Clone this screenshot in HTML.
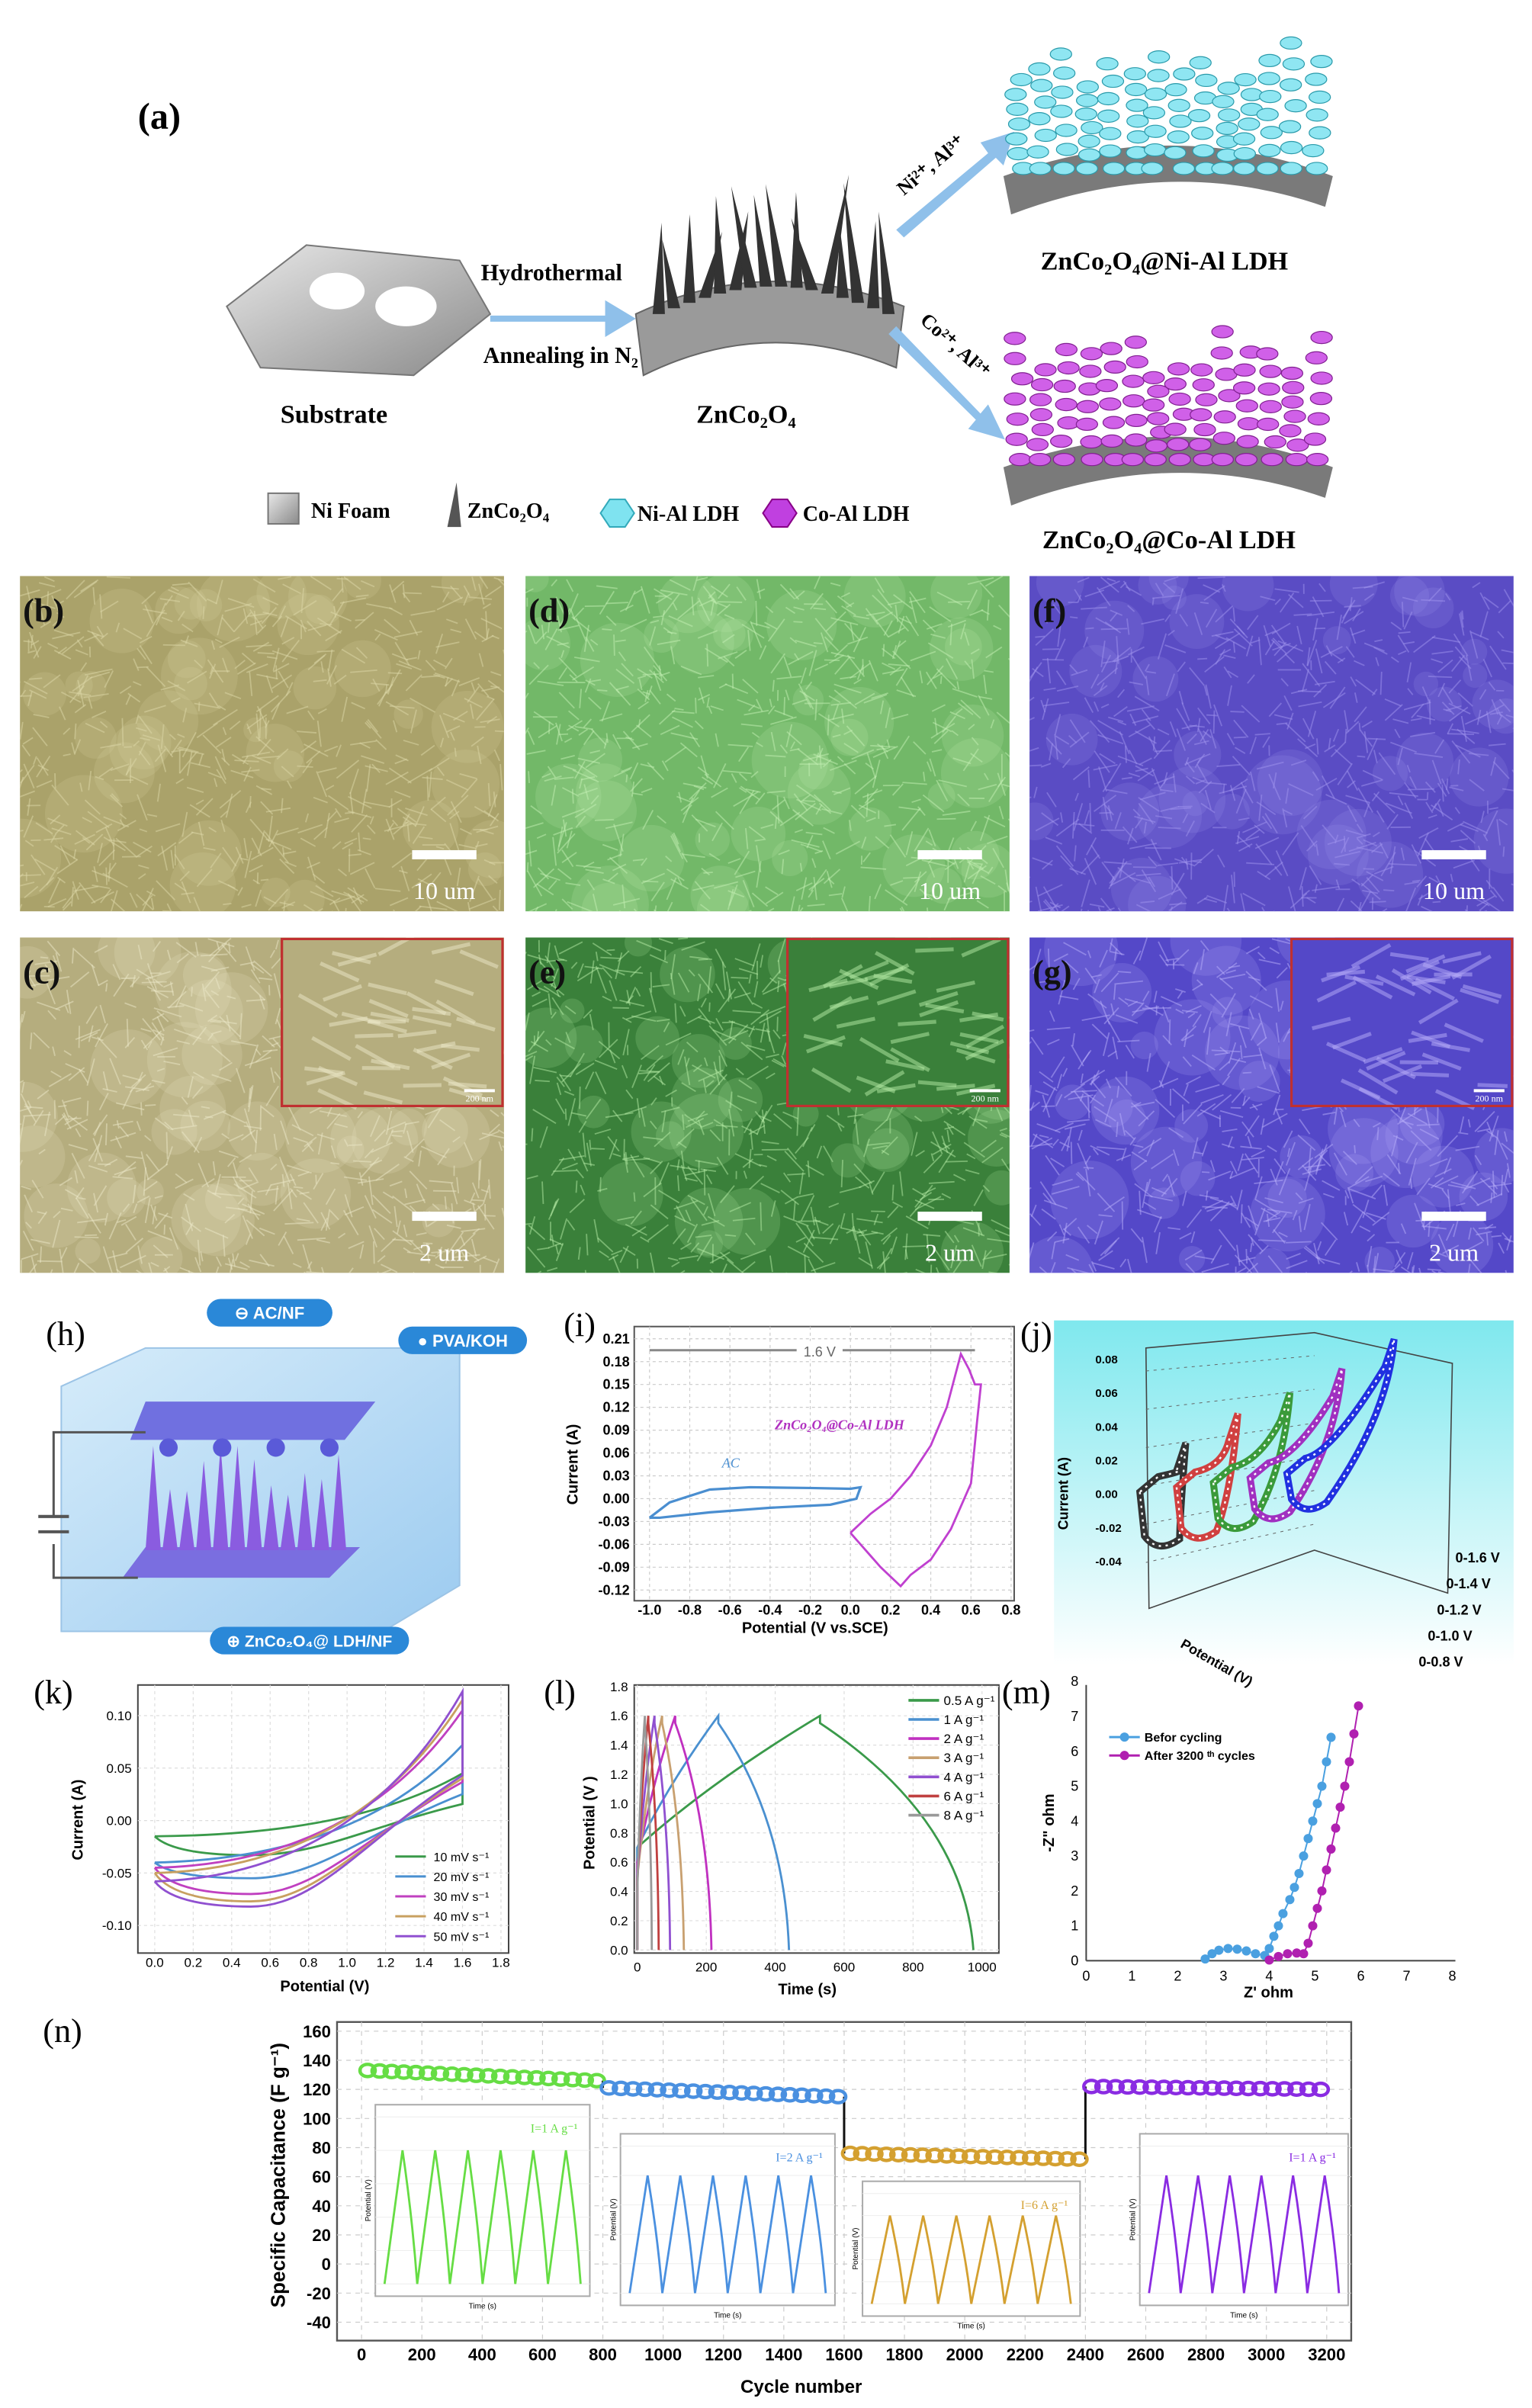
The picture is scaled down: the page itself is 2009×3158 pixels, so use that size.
<!DOCTYPE html>
<html><head><meta charset="utf-8">
<style>
html,body{margin:0;padding:0;background:#fff;}
svg{display:block;}
text{font-family:"Liberation Sans",sans-serif;}
.serif{font-family:"Liberation Serif",serif;}
</style></head>
<body>
<svg id="fig" width="2009" height="3158" viewBox="0 0 1000 1572" preserveAspectRatio="none" xmlns="http://www.w3.org/2000/svg">
<defs id="defs">
<linearGradient id="gNF" x1="0" y1="0" x2="1" y2="1"><stop offset="0" stop-color="#e8e8e8"/><stop offset="1" stop-color="#8a8a8a"/></linearGradient>
<linearGradient id="gJ" x1="0" y1="0" x2="0" y2="1"><stop offset="0" stop-color="#7fe8ee"/><stop offset="1" stop-color="#ffffff"/></linearGradient>
<linearGradient id="gH" x1="0" y1="0" x2="1" y2="1"><stop offset="0" stop-color="#d6ecfa"/><stop offset="1" stop-color="#9ccbf0"/></linearGradient>
</defs>

<g>
<text class="serif" x="90" y="84" font-size="24" font-weight="bold">(a)</text>
<path d="M148,200 L200,160 L300,170 L320,205 L270,245 L170,240 Z" fill="url(#gNF)" stroke="#777" stroke-width="1"/>
<ellipse cx="220" cy="190" rx="18" ry="12" fill="#fff"/>
<ellipse cx="265" cy="200" rx="20" ry="13" fill="#fff"/>
<text class="serif" x="218" y="276" font-size="17" font-weight="bold" text-anchor="middle">Substrate</text>
<path d="M320,206 L395,206 L395,196 L415,208 L395,220 L395,210 L320,210 Z" fill="#8fc0ea"/>
<text class="serif" x="360" y="183" font-size="15" font-weight="bold" text-anchor="middle">Hydrothermal</text>
<text class="serif" x="366" y="237" font-size="15" font-weight="bold" text-anchor="middle">Annealing in N₂</text>
<path d="M415,205 Q500,165 590,200 L585,240 Q500,205 420,245 Z" fill="#9a9a9a" stroke="#666"/>
<g id="spikes"></g>
<text class="serif" x="487" y="276" font-size="17" font-weight="bold" text-anchor="middle">ZnCo₂O₄</text>
<path d="M585,150 L645,100 L640,93 L662,86 L655,108 L650,103 L590,155 Z" fill="#8fc0ea"/>
<path d="M585,213 L640,270 L645,264 L656,287 L632,280 L637,274 L580,218 Z" fill="#8fc0ea"/>
<text class="serif" x="590" y="128" font-size="13" font-weight="bold" transform="rotate(-40 590 128)">Ni²⁺, Al³⁺</text>
<text class="serif" x="600" y="210" font-size="13" font-weight="bold" transform="rotate(42 600 210)">Co²⁺, Al³⁺</text>
<g id="niald"></g>
<g id="coald"></g>
<text class="serif" x="760" y="176" font-size="17" font-weight="bold" text-anchor="middle">ZnCo₂O₄@Ni-Al LDH</text>
<text class="serif" x="763" y="358" font-size="17" font-weight="bold" text-anchor="middle">ZnCo₂O₄@Co-Al LDH</text>
<rect x="175" y="322" width="20" height="20" fill="url(#gNF)" stroke="#777"/>
<text class="serif" x="203" y="338" font-size="14" font-weight="bold">Ni Foam</text>
<path d="M292,344 L298,315 L301,344 Z" fill="#555"/>
<text class="serif" x="305" y="338" font-size="14" font-weight="bold">ZnCo₂O₄</text>
<polygon points="392,335 398,326 408,326 414,335 408,344 398,344" fill="#7fe3f0" stroke="#3ab"/>
<text class="serif" x="416" y="340" font-size="14" font-weight="bold">Ni-Al LDH</text>
<polygon points="498,335 504,326 514,326 520,335 514,344 504,344" fill="#c040e0" stroke="#808"/>
<text class="serif" x="524" y="340" font-size="14" font-weight="bold">Co-Al LDH</text>
</g>

<g id="sem"></g>

<g>
<text class="serif" x="30" y="878" font-size="22">(h)</text>
<path d="M40,905 L95,880 L300,880 L300,1035 L250,1065 L40,1065 Z" fill="url(#gH)" stroke="#9cc4e6"/>
<path d="M95,915 L245,915 L225,940 L85,940 Z" fill="#7070e0"/>
<path d="M95,1010 L235,1010 L215,1030 L80,1030 Z" fill="#7a6ee0"/>
<g id="hspikes"></g>
<path d="M95,935 L35,935 L35,990 M35,1008 L35,1030 L90,1030" stroke="#555" stroke-width="1.5" fill="none"/>
<path d="M25,990 L45,990 M25,1000 L45,1000" stroke="#555" stroke-width="2"/>
<rect x="135" y="848" width="82" height="18" rx="9" fill="#2a88d8"/>
<text x="176" y="861" font-size="11" fill="#fff" text-anchor="middle" font-weight="bold">⊖  AC/NF</text>
<rect x="260" y="866" width="84" height="18" rx="9" fill="#2a88d8"/>
<text x="302" y="879" font-size="11" fill="#fff" text-anchor="middle" font-weight="bold">●  PVA/KOH</text>
<rect x="137" y="1062" width="130" height="18" rx="9" fill="#2a88d8"/>
<text x="202" y="1075" font-size="10.5" fill="#fff" text-anchor="middle" font-weight="bold">⊕ ZnCo₂O₄@ LDH/NF</text>
</g>

<g id="chartI"></g>
<g id="chartJ"></g>
<g id="chartK"></g>
<g id="chartL"></g>
<g id="chartM"></g>
<g id="chartN"></g>
</svg>

<script>
const iAcPot = [-1.0,-0.9,-0.7,-0.5,-0.2,0.0,0.05,0.03,-0.1,-0.4,-0.7,-0.95,-1.0];
const iAcCur = [-0.025,-0.005,0.012,0.015,0.014,0.013,0.015,0.0,-0.008,-0.012,-0.018,-0.025,-0.025];
const iZcoPot = [0.0,0.1,0.2,0.3,0.4,0.48,0.55,0.59,0.62,0.65,0.63,0.6,0.5,0.4,0.3,0.25,0.15,0.05,0.0];
const iZcoCur = [-0.045,-0.02,0.0,0.03,0.07,0.12,0.19,0.17,0.15,0.15,0.1,0.02,-0.04,-0.08,-0.1,-0.115,-0.09,-0.06,-0.045];
const iXTicks = [-1.0,-0.8,-0.6,-0.4,-0.2,0.0,0.2,0.4,0.6,0.8];
const iYTicks = [-0.12,-0.09,-0.06,-0.03,0.00,0.03,0.06,0.09,0.12,0.15,0.18,0.21];

const jPeak = [0.033,0.048,0.058,0.070,0.085];
const jMin = [-0.025,-0.024,-0.022,-0.02,-0.018];

const kRates = ["10 mV s⁻¹","20 mV s⁻¹","30 mV s⁻¹","40 mV s⁻¹","50 mV s⁻¹"];
const kTop = [0.045,0.072,0.105,0.115,0.123];
const kMin = [-0.033,-0.055,-0.07,-0.077,-0.082];
const kStart = [-0.015,-0.04,-0.045,-0.05,-0.058];
const kXTicks = [0.0,0.2,0.4,0.6,0.8,1.0,1.2,1.4,1.6,1.8];
const kYTicks = [-0.10,-0.05,0.00,0.05,0.10];

const lCurrents = ["0.5 A g⁻¹","1  A g⁻¹","2  A g⁻¹","3  A g⁻¹","4  A g⁻¹","6  A g⁻¹","8  A g⁻¹"];
const lPeakT = [530,235,110,72,50,32,22];
const lEndT = [975,440,215,135,95,62,42];
const lStartV = [0.7,0.7,0.6,0.5,0.5,0.45,0.4];
const lXTicks = [0,200,400,600,800,1000];
const lYTicks = [0.0,0.2,0.4,0.6,0.8,1.0,1.2,1.4,1.6,1.8];

const mBeforeX = [2.6,2.75,2.9,3.1,3.3,3.5,3.7,3.9,4.0,4.1,4.2,4.3,4.45,4.55,4.65,4.75,4.85,4.95,5.05,5.15,5.25,5.35];
const mBeforeY = [0.05,0.2,0.3,0.35,0.33,0.28,0.2,0.15,0.35,0.7,1.0,1.35,1.75,2.1,2.5,3.0,3.5,4.0,4.5,5.0,5.7,6.4];
const mAfterX = [4.0,4.2,4.4,4.6,4.75,4.85,4.95,5.05,5.15,5.25,5.35,5.45,5.55,5.65,5.75,5.85,5.95];
const mAfterY = [0.02,0.12,0.2,0.22,0.2,0.5,1.0,1.5,2.0,2.6,3.2,3.8,4.4,5.0,5.7,6.5,7.3];
const mTicks = [0,1,2,3,4,5,6,7,8];

const nSegStart = [0,800,1600,2400];
const nSegEnd = [800,1600,2400,3200];
const nSegFirst = [133,121,76,122];
const nSegLast = [126,115,72,120];
const nColors = ["#66dd44","#4a90e0","#d4a030","#8a2be2"];
const nXTicks = [0,200,400,600,800,1000,1200,1400,1600,1800,2000,2200,2400,2600,2800,3000,3200];
const nYTicks = [-40,-20,0,20,40,60,80,100,120,140,160];
const nInsetLabels = ["I=1 A g⁻¹","I=2 A g⁻¹","I=6 A g⁻¹","I=1 A g⁻¹"];
const nInsetPeakV = [1.6,1.6,1.6,1.6];
const nInsetMinV = [0.0,0.0,0.0,0.0];

const NS = "http://www.w3.org/2000/svg";
function mk(tag, attrs, parent, name) {
  const el = document.createElementNS(NS, tag);
  for (const k in attrs) el.setAttribute(k, attrs[k]);
  
  
  if (parent) parent.appendChild(el);
  return el;
}
function txt(parent, x, y, s, size, name, extra) {
  const t = mk('text', Object.assign({x:x, y:y, 'font-size':size}, extra||{}), parent, name);
  t.textContent = s;
  return t;
}
let seed = 7;
function rnd(){ seed = (seed*9301+49297)%233280; return seed/233280; }

const sp = document.getElementById('spikes');
for (let i=0;i<16;i++){
  const bx = 430 + i*10, by = 205 - Math.sin((i/15)*Math.PI)*18;
  const h = 40 + rnd()*40, lean = (rnd()-0.5)*30;
  mk('path',{d:`M${bx-4},${by} L${bx+lean},${by-h} L${bx+4},${by} Z`, fill:'#333'}, sp, 'zco-spike');
}
function ldh(g, x0, y0, col, stroke){
  mk('path',{d:`M${x0},${y0+110} Q${x0+110},${y0+70} ${x0+215},${y0+110} L${x0+210},${y0+130} Q${x0+110},${y0+95} ${x0+5},${y0+135} Z`, fill:'#7a7a7a'}, g, 'ldh-base');
  for (let i=0;i<14;i++){
    const bx = x0+10+i*15, h = 60+rnd()*45;
    for (let j=0;j<7;j++){
      mk('ellipse',{cx:bx+(rnd()-0.5)*6, cy:y0+105-j*h/7, rx:7, ry:4, fill:col, stroke:stroke, 'stroke-width':0.6}, g, 'ldh-flake');
    }
  }
}
ldh(document.getElementById('niald'), 655, 5, '#8fe6f2', '#2a9aaa');
ldh(document.getElementById('coald'), 655, 195, '#d060e8', '#802090');

const sem = document.getElementById('sem');
const defs = document.getElementById('defs');
const panels = [
  {l:'(b)',x:13,y:376,c:'#aaa26a',d:'#ddd8a8',s:'10 um'},
  {l:'(d)',x:343,y:376,c:'#72b868',d:'#c4f0b4',s:'10 um'},
  {l:'(f)',x:672,y:376,c:'#5a4cc4',d:'#a094ee',s:'10 um'},
  {l:'(c)',x:13,y:612,c:'#b5ad7e',d:'#ece8c8',s:'2 um',ins:1},
  {l:'(e)',x:343,y:612,c:'#3a803a',d:'#b6eca6',s:'2 um',ins:1},
  {l:'(g)',x:672,y:612,c:'#5448c8',d:'#b8aefa',s:'2 um',ins:1}
];
panels.forEach((p,pi)=>{
  const w=316,h=219;
  const cp = mk('clipPath',{id:'cp'+pi}, defs, 'sem-clip');
  mk('rect',{x:p.x,y:p.y,width:w,height:h}, cp, 'sem-clip-rect');
  const g = mk('g',{'clip-path':'url(#cp'+pi+')'}, sem, 'sem-panel');
  mk('rect',{x:p.x,y:p.y,width:w,height:h,fill:p.c}, g, 'sem-image');
  for (let i=0;i<40;i++){
    mk('circle',{cx:p.x+rnd()*w, cy:p.y+rnd()*h, r:8+rnd()*18, fill:p.d, opacity:0.18}, g, 'sem-blob');
  }
  for (let i=0;i<700;i++){
    const x=p.x+rnd()*w, y=p.y+rnd()*h, a=rnd()*Math.PI, L=5+rnd()*14;
    mk('line',{x1:x,y1:y,x2:x+Math.cos(a)*L,y2:y+Math.sin(a)*L,stroke:p.d,'stroke-width':0.9,opacity:0.5}, g, 'sem-texture');
  }
  if (p.ins){
    mk('rect',{x:p.x+171,y:p.y+1,width:144,height:109,fill:p.c,stroke:'#c03030','stroke-width':1.5}, g, 'sem-inset');
    for (let i=0;i<40;i++){
      const x=p.x+175+rnd()*120,y=p.y+8+rnd()*95;
      mk('line',{x1:x,y1:y,x2:Math.min(x+25,p.x+312),y2:y+(rnd()-0.5)*30,stroke:p.d,'stroke-width':2.5,opacity:0.5}, g, 'sem-inset-texture');
    }
    mk('rect',{x:p.x+171,y:p.y+1,width:144,height:109,fill:'none',stroke:'#c03030','stroke-width':1.5}, g, 'sem-inset-border');
    mk('line',{x1:p.x+290,y1:p.y+100,x2:p.x+310,y2:p.y+100,stroke:'#fff','stroke-width':2}, g, 'inset-scale-bar');
    txt(g,p.x+300,p.y+107,'200 nm',6,'inset-scale-label',{fill:'#fff','text-anchor':'middle',class:'serif'});
  }
  txt(g,p.x+2,p.y+30,p.l,22,'sem-panel-label',{class:'serif','font-weight':'bold',fill:'#111'});
  mk('rect',{x:p.x+w-60,y:p.y+h-40,width:42,height:6,fill:'#fff'}, g, 'scale-bar');
  txt(g,p.x+w-39,p.y+h-8,p.s,16,'scale-bar-label',{class:'serif',fill:'#fff','text-anchor':'middle'});
});

const hs = document.getElementById('hspikes');
for (let i=0;i<12;i++){
  const bx=100+i*11, h=35+rnd()*35;
  mk('path',{d:`M${bx-5},1012 L${bx},${1012-h} L${bx+5},1012 Z`, fill:'#8a5ce0'}, hs, 'ldh-spike');
}
for (let i=0;i<4;i++) mk('circle',{cx:110+i*35,cy:945,r:6,fill:'#5a5ad8'}, hs, 'ac-bead');

function axes(g, X0,X1,Y0,Y1, xmin,xmax,ymin,ymax){
  return {sx:v=>X0+(v-xmin)/(xmax-xmin)*(X1-X0), sy:v=>Y0-(v-ymin)/(ymax-ymin)*(Y0-Y1)};
}
function poly(xs,ys,A){ return xs.map((x,i)=>(i?'L':'M')+A.sx(x).toFixed(1)+','+A.sy(ys[i]).toFixed(1)).join(' '); }

(function(){
  const g=document.getElementById('chartI');
  txt(g,368,872,'(i)',22,'label-i',{class:'serif'});
  const PX0=414, PX1=662, PY0=1045, PY1=866;
  mk('rect',{x:PX0,y:PY1,width:PX1-PX0,height:PY0-PY1,fill:'#fff',stroke:'#555','stroke-width':1}, g,'plot-frame');
  const A=axes(g,424,660,1038,874,-1.0,0.8,-0.12,0.21);
  iXTicks.forEach(v=>{
    mk('line',{x1:A.sx(v),y1:PY1,x2:A.sx(v),y2:PY0,stroke:'#ccc','stroke-dasharray':'2,2','stroke-width':0.6}, g,'grid-x');
    txt(g,A.sx(v),1054,v.toFixed(1),9,'x-tick-label',{'text-anchor':'middle','font-weight':'bold'});
  });
  iYTicks.forEach(v=>{
    mk('line',{x1:PX0,y1:A.sy(v),x2:PX1,y2:A.sy(v),stroke:'#ccc','stroke-dasharray':'2,2','stroke-width':0.6}, g,'grid-y');
    txt(g,PX0-3,A.sy(v)+3,v.toFixed(2),9,'y-tick-label',{'text-anchor':'end','font-weight':'bold'});
  });
  txt(g,532,1066,'Potential (V vs.SCE)',10,'x-axis-title',{'text-anchor':'middle','font-weight':'bold'});
  txt(g,377,956,'Current (A)',10,'y-axis-title',{'text-anchor':'middle','font-weight':'bold',transform:'rotate(-90 377 956)'});
  mk('path',{d:poly(iAcPot,iAcCur,A),fill:'none',stroke:'#4a8ed0','stroke-width':1.6}, g,'series-ac');
  mk('path',{d:poly(iZcoPot,iZcoCur,A),fill:'none',stroke:'#c040d0','stroke-width':1.4}, g,'series-zco-co-al');
  mk('line',{x1:A.sx(-1.0),y1:A.sy(0.195),x2:A.sx(0.62),y2:A.sy(0.195),stroke:'#888','stroke-width':1.5}, g,'voltage-window-arrow');
  mk('rect',{x:520,y:A.sy(0.195)-6,width:30,height:12,fill:'#fff'}, g,'arrow-gap');
  txt(g,535,A.sy(0.195)+4,'1.6 V',9,'voltage-window-label',{'text-anchor':'middle',fill:'#666'});
  txt(g,548,933,'ZnCo₂O₄@Co-Al LDH',9,'label-zco',{'text-anchor':'middle',fill:'#b030c0','font-style':'italic','font-weight':'bold',class:'serif'});
  txt(g,477,958,'AC',9,'label-ac',{'text-anchor':'middle',fill:'#4a8ed0','font-style':'italic',class:'serif'});
})();

(function(){
  const g=document.getElementById('chartJ');
  mk('rect',{x:688,y:862,width:300,height:225,fill:'url(#gJ)'}, g,'plot-background');
  txt(g,666,878,'(j)',22,'label-j',{class:'serif'});
  mk('path',{d:'M748,880 L858,870 L948,890 L945,1040 L858,1012 L750,1050 Z',fill:'none',stroke:'#444','stroke-width':0.8}, g,'3d-box');
  for (let k=0;k<6;k++) mk('line',{x1:748,y1:895+k*25,x2:858,y2:885+k*22,stroke:'#666','stroke-dasharray':'2,3','stroke-width':0.5}, g,'3d-grid');
  const jCols=['#333','#d04040','#3a9a3a','#a030c0','#2030e0'];
  const Z=v=>980-v*1150;
  jCols.forEach((c,i)=>{
    const bx=744+i*24, by=Z(0)+2-i*3;
    const px=bx+30+i*10, py=Z(jPeak[i])-i*2;
    const bot=Z(jMin[i])-i*4;
    const d=`M${bx},${by-8} L${bx+3},${bot-6} Q${bx+12},${bot+6} ${bx+26},${bot-4} Q${px-4},${py+50} ${px},${py} L${px-6},${py+18} Q${bx+30},${by-22} ${bx+12},${by-18} Z`;
    mk('path',{d:d,fill:'none',stroke:c,'stroke-width':4.5}, g,'series-3d-loop');
    mk('path',{d:d,fill:'none',stroke:'#fff','stroke-width':1.2,'stroke-dasharray':'1.5,3'}, g,'series-3d-dots');
  });
  ['0-1.6 V','0-1.4 V','0-1.2 V','0-1.0 V','0-0.8 V'].forEach((s,i)=>txt(g,950-i*6,1020+i*17,s,9,'depth-tick-label',{'font-weight':'bold'}));
  ['0.08','0.06','0.04','0.02','0.00','-0.02','-0.04'].forEach((s,i)=>txt(g,715,890+i*22,s,7.5,'z-tick-label',{'font-weight':'bold'}));
  txt(g,697,975,'Current (A)',9,'z-axis-title',{'font-weight':'bold',transform:'rotate(-90 697 975)','text-anchor':'middle'});
  txt(g,770,1075,'Potential (V)',9,'x-axis-title',{'font-weight':'bold',transform:'rotate(30 770 1075)'});
})();

(function(){
  const g=document.getElementById('chartK');
  txt(g,22,1112,'(k)',22,'label-k',{class:'serif'});
  const PX0=90, PX1=332, PY0=1275, PY1=1100;
  mk('rect',{x:PX0,y:PY1,width:PX1-PX0,height:PY0-PY1,fill:'#fff',stroke:'#444'}, g,'plot-frame');
  const A=axes(g,101,327,1257,1120,0.0,1.8,-0.10,0.10);
  kXTicks.forEach(v=>{
    mk('line',{x1:A.sx(v),y1:PY1,x2:A.sx(v),y2:PY0,stroke:'#ddd','stroke-dasharray':'2,2','stroke-width':0.6}, g,'grid-x');
    txt(g,A.sx(v),1284,v.toFixed(1),8.5,'x-tick-label',{'text-anchor':'middle'});
  });
  kYTicks.forEach(v=>{
    mk('line',{x1:PX0,y1:A.sy(v),x2:PX1,y2:A.sy(v),stroke:'#ddd','stroke-dasharray':'2,2','stroke-width':0.6}, g,'grid-y');
    txt(g,PX0-4,A.sy(v)+3,v.toFixed(2),8.5,'y-tick-label',{'text-anchor':'end'});
  });
  txt(g,212,1300,'Potential (V)',10,'x-axis-title',{'text-anchor':'middle','font-weight':'bold'});
  txt(g,54,1188,'Current (A)',10,'y-axis-title',{'text-anchor':'middle','font-weight':'bold',transform:'rotate(-90 54 1188)'});
  const cols=['#3a9a4a','#4a90d0','#c040c0','#c8a060','#9050d0'];
  kRates.forEach((r,i)=>{
    const d=`M${A.sx(0)},${A.sy(kStart[i])} Q${A.sx(1.05)},${A.sy(kStart[i]*0.9)} ${A.sx(1.6)},${A.sy(kTop[i])} L${A.sx(1.6)},${A.sy(kTop[i]*0.35)} C${A.sx(1.1)},${A.sy(kMin[i]*0.2)} ${A.sx(0.85)},${A.sy(kMin[i])} ${A.sx(0.5)},${A.sy(kMin[i])} Q${A.sx(0.1)},${A.sy(kMin[i])} ${A.sx(0)},${A.sy(kStart[i])}`;
    mk('path',{d:d,fill:'none',stroke:cols[i],'stroke-width':1.4}, g,'series-'+(i+1));
    mk('line',{x1:258,y1:1212+i*13,x2:278,y2:1212+i*13,stroke:cols[i],'stroke-width':1.5}, g,'legend-swatch');
    txt(g,283,1215+i*13,r,8,'legend-entry');
  });
})();

(function(){
  const g=document.getElementById('chartL');
  txt(g,355,1112,'(l)',22,'label-l',{class:'serif'});
  const PX0=414, PX1=652, PY0=1275, PY1=1100;
  mk('rect',{x:PX0,y:PY1,width:PX1-PX0,height:PY0-PY1,fill:'#fff',stroke:'#444'}, g,'plot-frame');
  const A=axes(g,416,641,1273,1101,0,1000,0,1.8);
  lXTicks.forEach(v=>{
    mk('line',{x1:A.sx(v),y1:PY1,x2:A.sx(v),y2:PY0,stroke:'#ddd','stroke-dasharray':'2,2','stroke-width':0.6}, g,'grid-x');
    txt(g,A.sx(v),1287,String(v),8.5,'x-tick-label',{'text-anchor':'middle'});
  });
  lYTicks.forEach(v=>{
    mk('line',{x1:PX0,y1:A.sy(v),x2:PX1,y2:A.sy(v),stroke:'#ddd','stroke-dasharray':'2,2','stroke-width':0.6}, g,'grid-y');
    txt(g,PX0-4,A.sy(v)+3,v.toFixed(1),8.5,'y-tick-label',{'text-anchor':'end'});
  });
  txt(g,527,1302,'Time (s)',10,'x-axis-title',{'text-anchor':'middle','font-weight':'bold'});
  txt(g,388,1190,'Potential (V )',10,'y-axis-title',{'text-anchor':'middle','font-weight':'bold',transform:'rotate(-90 388 1190)'});
  const cols=['#3a9a4a','#4a90d0','#c030c0','#c8a070','#9050d0','#c04040','#999'];
  lCurrents.forEach((c,i)=>{
    const d=`M${A.sx(0)},${A.sy(0)} L${A.sx(0)},${A.sy(lStartV[i])} Q${A.sx(lPeakT[i]*0.4)},${A.sy(1.15)} ${A.sx(lPeakT[i])},${A.sy(1.6)} L${A.sx(lPeakT[i])},${A.sy(1.55)} Q${A.sx(lEndT[i]*0.97)},${A.sy(0.9)} ${A.sx(lEndT[i])},${A.sy(0)}`;
    mk('path',{d:d,fill:'none',stroke:cols[i],'stroke-width':1.4}, g,'series-'+(i+1));
    mk('line',{x1:593,y1:1110+i*12.5,x2:613,y2:1110+i*12.5,stroke:cols[i],'stroke-width':1.8}, g,'legend-swatch');
    txt(g,616,1113+i*12.5,c,8.5,'legend-entry');
  });
})();

(function(){
  const g=document.getElementById('chartM');
  txt(g,654,1112,'(m)',22,'label-m',{class:'serif'});
  const A=axes(g,709,948,1280,1100,0,8,0,7.9);
  mk('line',{x1:709,y1:1100,x2:709,y2:1280,stroke:'#444'}, g,'y-axis');
  mk('line',{x1:709,y1:1280,x2:950,y2:1280,stroke:'#444'}, g,'x-axis');
  mTicks.forEach(v=>{
    txt(g,A.sx(v),1293,String(v),9,'x-tick-label',{'text-anchor':'middle'});
    txt(g,704,A.sy(v)+3,String(v),9,'y-tick-label',{'text-anchor':'end'});
  });
  txt(g,828,1304,"Z' ohm",10,'x-axis-title',{'text-anchor':'middle','font-weight':'bold'});
  txt(g,688,1190,'-Z" ohm',10,'y-axis-title',{'text-anchor':'middle','font-weight':'bold',transform:'rotate(-90 688 1190)'});
  mk('path',{d:poly(mBeforeX,mBeforeY,A),fill:'none',stroke:'#4aa0e0','stroke-width':1}, g,'series-before-line');
  mBeforeX.forEach((x,i)=>mk('circle',{cx:A.sx(x),cy:A.sy(mBeforeY[i]),r:3,fill:'#4aa0e0'}, g,'point-before'));
  mk('path',{d:poly(mAfterX,mAfterY,A),fill:'none',stroke:'#b020b0','stroke-width':1}, g,'series-after-line');
  mAfterX.forEach((x,i)=>mk('circle',{cx:A.sx(x),cy:A.sy(mAfterY[i]),r:3,fill:'#b020b0'}, g,'point-after'));
  mk('line',{x1:724,y1:1134,x2:744,y2:1134,stroke:'#4aa0e0','stroke-width':1.5}, g,'legend-swatch-before');
  mk('circle',{cx:734,cy:1134,r:3,fill:'#4aa0e0'}, g,'legend-marker-before');
  txt(g,747,1137,'Befor cycling',8,'legend-entry-before',{'font-weight':'bold'});
  mk('line',{x1:724,y1:1146,x2:744,y2:1146,stroke:'#b020b0','stroke-width':1.5}, g,'legend-swatch-after');
  mk('circle',{cx:734,cy:1146,r:3,fill:'#b020b0'}, g,'legend-marker-after');
  txt(g,747,1149,'After 3200 ᵗʰ cycles',8,'legend-entry-after',{'font-weight':'bold'});
})();

(function(){
  const g=document.getElementById('chartN');
  txt(g,28,1333,'(n)',22,'label-n',{class:'serif'});
  const PX0=220, PX1=882, PY0=1528, PY1=1320;
  mk('rect',{x:PX0,y:PY1,width:PX1-PX0,height:PY0-PY1,fill:'#fff',stroke:'#555','stroke-width':1.2}, g,'plot-frame');
  const A=axes(g,236,866,1516,1326,0,3200,-40,160);
  nXTicks.forEach(v=>{
    mk('line',{x1:A.sx(v),y1:PY1,x2:A.sx(v),y2:PY0,stroke:'#ccc','stroke-dasharray':'3,3','stroke-width':0.6}, g,'grid-x');
    txt(g,A.sx(v),1541,String(v),11,'x-tick-label',{'text-anchor':'middle','font-weight':'bold'});
  });
  nYTicks.forEach(v=>{
    mk('line',{x1:PX0,y1:A.sy(v),x2:PX1,y2:A.sy(v),stroke:'#ccc','stroke-dasharray':'3,3','stroke-width':0.6}, g,'grid-y');
    txt(g,PX0-4,A.sy(v)+4,String(v),11,'y-tick-label',{'text-anchor':'end','font-weight':'bold'});
  });
  txt(g,523,1562,'Cycle number',12,'x-axis-title',{'text-anchor':'middle','font-weight':'bold'});
  txt(g,186,1420,'Specific Capacitance (F g⁻¹)',13,'y-axis-title',{'text-anchor':'middle','font-weight':'bold',transform:'rotate(-90 186 1420)'});
  for (let i=1;i<4;i++) mk('line',{x1:A.sx(nSegStart[i]),y1:A.sy(nSegLast[i-1]),x2:A.sx(nSegStart[i]),y2:A.sy(nSegFirst[i]),stroke:'#111','stroke-width':1.5}, g,'segment-connector');
  nSegStart.forEach((s,i)=>{
    const n=20;
    for (let k=0;k<n;k++){
      const c=s+(nSegEnd[i]-s)*(k+0.5)/n;
      const v=nSegFirst[i]+(nSegLast[i]-nSegFirst[i])*k/(n-1);
      mk('ellipse',{cx:A.sx(c),cy:A.sy(v),rx:5,ry:4,fill:'none',stroke:nColors[i],'stroke-width':2.2}, g,'cycle-marker');
    }
  });
  const ins=[{x:245,y:1374,w:140,h:125},{x:405,y:1393,w:140,h:112},{x:563,y:1424,w:142,h:88},{x:744,y:1393,w:136,h:112}];
  ins.forEach((b,i)=>{
    const h=b.h;
    mk('rect',{x:b.x,y:b.y,width:b.w,height:h,fill:'#fff',stroke:'#aaa'}, g,'inset-frame');
    const IA=axes(g,b.x+6,b.x+b.w-6,b.y+h-8,b.y+8,0,6,0,2.0);
    for (let v=0; v<=2.0; v+=0.4) mk('line',{x1:b.x,y1:IA.sy(v),x2:b.x+b.w,y2:IA.sy(v),stroke:'#eee','stroke-width':0.5}, g,'inset-grid');
    let d='M'+IA.sx(0)+','+IA.sy(nInsetMinV[i]);
    for (let k=0;k<6;k++){
      d+=` L${IA.sx(k+0.55)},${IA.sy(nInsetPeakV[i])} Q${IA.sx(k+0.85)},${IA.sy(0.8)} ${IA.sx(k+1)},${IA.sy(nInsetMinV[i])}`;
    }
    mk('path',{d:d,fill:'none',stroke:nColors[i],'stroke-width':1.4}, g,'inset-gcd-curve');
    txt(g,b.x+b.w-8,b.y+18,nInsetLabels[i],8,'inset-label',{'text-anchor':'end',fill:nColors[i],class:'serif'});
    txt(g,b.x+b.w/2,b.y+h+8,'Time (s)',5,'inset-x-title',{'text-anchor':'middle'});
    txt(g,b.x-3,b.y+h/2,'Potential (V)',5,'inset-y-title',{'text-anchor':'middle',transform:`rotate(-90 ${b.x-3} ${b.y+h/2})`});
  });
})();
</script>
</body></html>
